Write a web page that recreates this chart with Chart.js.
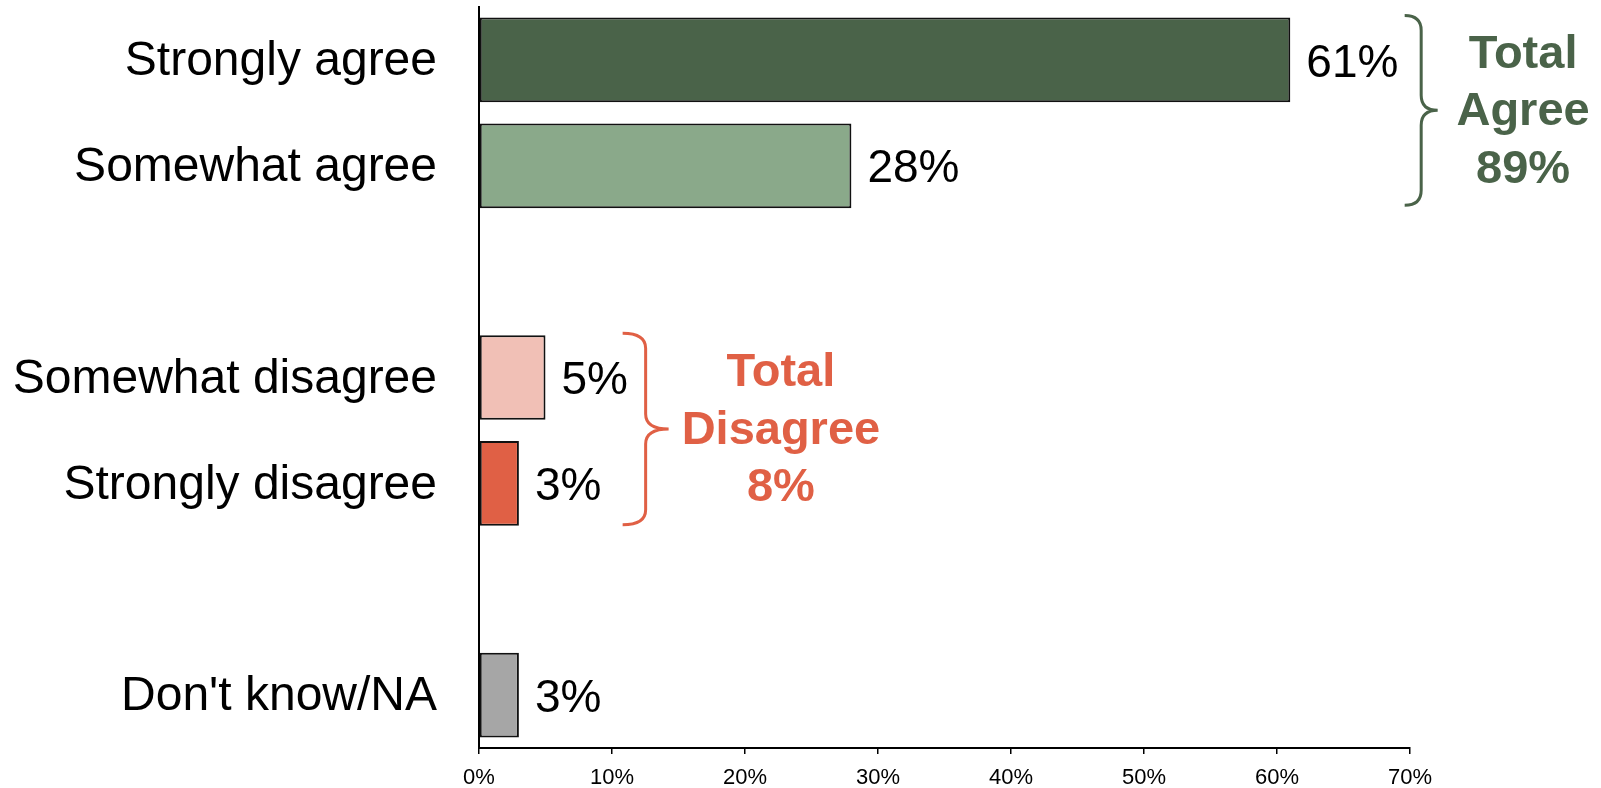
<!DOCTYPE html>
<html>
<head>
<meta charset="utf-8">
<script src="https://cdn.jsdelivr.net/npm/chart.js@4"></script>
<style>
  html, body { margin: 0; padding: 0; background: #fff; overflow: hidden; }
  #wrap { width: 1601px; height: 788px; }
</style>
</head>
<body>
<div id="wrap"><canvas id="chart" width="1601" height="788"></canvas></div>
<script>
// categories, the empty ones are the gaps between the groups
var categories = ['Strongly agree', 'Somewhat agree', '', 'Somewhat disagree', 'Strongly disagree', '', "Don't know/NA"];
var values = [61, 28, null, 5, 3, null, 3];
var barColors = ['#4a6349', '#8aa98a', '#fff', '#f1c0b6', '#e06045', '#fff', '#a6a6a6'];
var xTicks = [0, 10, 20, 30, 40, 50, 60, 70];
var totalAgree = ['Total', 'Agree', '89%'];
var totalDisagree = ['Total', 'Disagree', '8%'];

var FONT = "'Liberation Sans', Arial, sans-serif";
var GREEN = '#4a6349';
var RED = '#e06045';

/** draws a curly brace opening to the left, tip pointing right */
function drawBrace(ctx, x, yTop, yBot, w, color) {
  var mid = (yTop + yBot) / 2;
  var xm = x + w / 2;
  var r = 15;
  ctx.save();
  ctx.strokeStyle = color;
  ctx.lineWidth = 3;
  ctx.beginPath();
  ctx.moveTo(x, yTop);
  ctx.quadraticCurveTo(xm, yTop, xm, yTop + r);
  ctx.lineTo(xm, mid - r);
  ctx.quadraticCurveTo(xm, mid, x + w, mid);
  ctx.quadraticCurveTo(xm, mid, xm, mid + r);
  ctx.lineTo(xm, yBot - r);
  ctx.quadraticCurveTo(xm, yBot, x, yBot);
  ctx.stroke();
  ctx.restore();
}

function drawLines(ctx, lines, cx, cy, step, color) {
  ctx.save();
  ctx.fillStyle = color;
  ctx.font = 'bold 47px ' + FONT;
  ctx.textAlign = 'center';
  ctx.textBaseline = 'middle';
  for (var i = 0; i < lines.length; i++) {
    ctx.fillText(lines[i], cx, cy + 2 + (i - (lines.length - 1) / 2) * step);
  }
  ctx.restore();
}

var annotations = {
  id: 'annotations',
  afterDatasetsDraw: function(chart) {
    var ctx = chart.ctx;
    var meta = chart.getDatasetMeta(0);
    var xs = chart.scales.x;

    // value labels at the end of each bar
    ctx.save();
    ctx.fillStyle = '#000';
    ctx.font = '46px ' + FONT;
    ctx.textBaseline = 'middle';
    meta.data.forEach(function(bar, i) {
      if (values[i] === null) return;
      ctx.fillText(values[i] + '%', bar.x + 16, bar.y + 4);
    });
    ctx.restore();

    var b0 = meta.data[0], b1 = meta.data[1], b3 = meta.data[3], b4 = meta.data[4];
    var agreeTop = b0.y - b0.height / 2 - 2, agreeBot = b1.y + b1.height / 2 - 3;
    var disTop = b3.y - b3.height / 2 - 2, disBot = b4.y + b4.height / 2 - 1;

    drawBrace(ctx, xs.getPixelForValue(69.6), agreeTop, agreeBot, 33, GREEN);
    drawBrace(ctx, xs.getPixelForValue(10.8), disTop, disBot, 46, RED);

    drawLines(ctx, totalAgree, xs.getPixelForValue(78.5), (agreeTop + agreeBot) / 2, 57.5, GREEN);
    drawLines(ctx, totalDisagree, xs.getPixelForValue(22.7), (disTop + disBot) / 2, 57.5, RED);
  }
};

new Chart(document.getElementById('chart').getContext('2d'), {
  type: 'bar',
  data: {
    labels: categories,
    datasets: [{
      data: values,
      backgroundColor: barColors,
      borderColor: '#111',
      borderWidth: 2,
      borderSkipped: false,
      barPercentage: 0.8,
      categoryPercentage: 1
    }]
  },
  options: {
    indexAxis: 'y',
    responsive: false,
    animation: false,
    devicePixelRatio: 1,
    layout: { padding: { top: 7, right: 191, left: 0, bottom: 0 } },
    plugins: { legend: { display: false }, tooltip: { enabled: false } },
    scales: {
      y: {
        afterFit: function(scale) {
          // fixed width, and no extra room for the end labels
          scale.width = 479;
          scale.paddingTop = 0;
          scale.paddingBottom = 0;
        },
        grid: { display: false, drawTicks: false },
        border: { display: true, color: '#000', width: 2 },
        ticks: {
          autoSkip: false,
          padding: 42,
          labelOffset: 2,
          color: '#000',
          font: { family: FONT, size: 48 }
        }
      },
      x: {
        min: 0,
        max: 70,
        afterBuildTicks: function(scale) {
          scale.ticks = xTicks.map(function(v) { return { value: v }; });
        },
        afterFit: function(scale) {
          scale.height = 40;
          scale.paddingLeft = 0;
          scale.paddingRight = 0;
        },
        grid: { drawOnChartArea: false, drawTicks: true, tickLength: 6, color: '#000', lineWidth: 1.5 },
        border: { display: true, color: '#000', width: 2 },
        ticks: {
          padding: 11,
          color: '#000',
          font: { family: FONT, size: 22 },
          callback: function(v) { return v + '%'; }
        }
      }
    }
  },
  plugins: [annotations]
});
</script>
</body>
</html>
